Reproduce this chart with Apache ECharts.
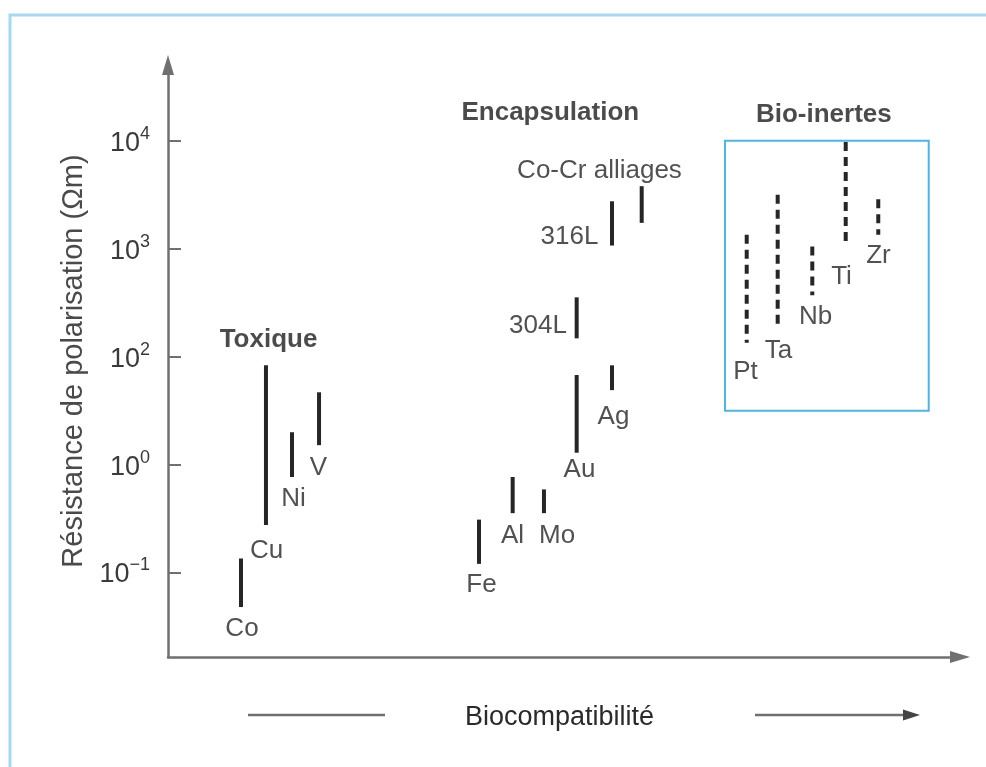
<!DOCTYPE html>
<html>
<head>
<meta charset="utf-8">
<title>Résistance de polarisation et biocompatibilité</title>
<script src="https://cdn.jsdelivr.net/npm/echarts@6/dist/echarts.min.js"></script>
<style>
  html, body { margin: 0; padding: 0; background: #fff; }
  #chart { width: 986px; height: 767px; }
</style>
</head>
<body>
<div id="chart"></div>
<script>
// y axis levels are evenly spaced in the figure: 0 = 10^-1, 1 = 10^0, 2 = 10^2, 3 = 10^3, 4 = 10^4
var tickLevels = [0, 1, 2, 3, 4];
var tickBase = ['10', '10', '10', '10', '10'];
var tickExp = ['\u22121', '0', '2', '3', '4'];

// materials, position along the biocompatibility axis (0-100) and range on the level axis
var materials = ['Co', 'Cu', 'Ni', 'V', 'Fe', 'Al', 'Mo', 'Au', 'Ag', '304L', '316L', 'Co-Cr alliages', 'Pt', 'Ta', 'Nb', 'Ti', 'Zr'];
var xPos = [9.22, 12.37, 15.66, 19.07, 39.27, 43.52, 47.47, 51.60, 56.06, 51.60, 56.06, 59.81, 73.07, 76.98, 81.35, 85.57, 89.68];
var low = [-0.32, 0.44, 0.885, 1.18, 0.08, 0.55, 0.55, 1.11, 1.69, 2.17, 3.03, 3.24, 2.13, 2.29, 2.57, 3.02, 3.13];
var high = [0.13, 1.92, 1.30, 1.67, 0.49, 0.885, 0.77, 1.83, 1.92, 2.55, 3.44, 3.58, 3.13, 3.50, 3.02, 3.99, 3.46];
var bioInert = [0, 0, 0, 0, 0, 0, 0, 0, 0, 0, 0, 0, 1, 1, 1, 1, 1];

// where each material name sits
var labelX = [9.34, 12.44, 15.85, 19.00, 39.58, 43.50, 49.12, 51.96, 56.25, 46.72, 50.69, 54.48, 72.92, 77.08, 81.76, 85.04, 89.71];
var labelY = [-0.52, 0.20, 0.68, 0.97, -0.11, 0.34, 0.34, 0.95, 1.44, 2.29, 3.11, 3.72, 1.86, 2.05, 2.37, 2.74, 2.93];

// group headings
var groups = ['Toxique', 'Encapsulation', 'Bio-inertes'];
var groupX = [12.69, 48.27, 82.81];
var groupY = [2.16, 4.26, 4.24];

// frame around the bio-inert group
var inertBoxX = [70.33, 96.05];
var inertBoxY = [1.50, 4.0];

var regular = '"Liberation Sans", Arial, Helvetica, sans-serif';
var narrow = '"Liberation Sans Narrow", "Liberation Sans", Arial, sans-serif';
var axisGrey = '#707070';

var chart = echarts.init(document.getElementById('chart'));

var barData = materials.map(function (m, i) {
  return { name: m, value: [xPos[i], low[i], high[i], bioInert[i]] };
});
var labelData = materials.map(function (m, i) {
  return { name: m, value: [labelX[i], labelY[i]] };
});
var groupData = groups.map(function (g, i) {
  return { name: g, value: [groupX[i], groupY[i]] };
});

var option = {
  animation: false,
  backgroundColor: '#ffffff',
  grid: { left: 168, right: 26, top: 65, bottom: 110 },
  xAxis: {
    type: 'value',
    min: 0,
    max: 100,
    axisLine: {
      show: true,
      onZero: false,
      symbol: ['none', 'triangle'],
      symbolSize: [12, 20],
      lineStyle: { color: axisGrey, width: 2.5 }
    },
    axisTick: { show: false },
    axisLabel: { show: false },
    splitLine: { show: false },
    name: 'Biocompatibilité',
    nameLocation: 'middle',
    nameGap: 47,
    nameTextStyle: { fontFamily: regular, fontSize: 27, color: '#2a2a2a', padding: [0, 9, 0, 0] }
  },
  yAxis: {
    type: 'value',
    min: -0.783,
    max: 4.703,
    axisLine: {
      show: true,
      onZero: false,
      symbol: ['none', 'triangle'],
      symbolSize: [12, 20],
      lineStyle: { color: axisGrey, width: 2.5 }
    },
    axisTick: {
      show: true,
      inside: true,
      length: 13,
      customValues: tickLevels,
      lineStyle: { color: axisGrey, width: 2 }
    },
    axisLabel: {
      customValues: tickLevels,
      margin: 18,
      formatter: function (v) {
        var i = tickLevels.indexOf(Math.round(v));
        return '{b|' + tickBase[i] + '}{s|' + tickExp[i] + '}';
      },
      rich: {
        b: { fontFamily: narrow, fontSize: 27, color: '#3a3a3a', lineHeight: 32, verticalAlign: 'bottom' },
        s: { fontFamily: narrow, fontSize: 18, color: '#3a3a3a', lineHeight: 18, verticalAlign: 'top' }
      }
    },
    splitLine: { show: false },
    name: 'Résistance de polarisation (Ωm)',
    nameLocation: 'middle',
    nameRotate: 90,
    nameGap: 80,
    nameTextStyle: { fontFamily: regular, fontSize: 29, color: '#4a4a4a' }
  },
  graphic: [
    {
      type: 'polyline',
      shape: { points: [[10, 767], [10, 15], [986, 15]] },
      style: { stroke: '#a3d9f4', lineWidth: 3, fill: null },
      silent: true
    },
    {
      type: 'line',
      shape: { x1: 248, y1: 715, x2: 385, y2: 715 },
      style: { stroke: axisGrey, lineWidth: 2.5 },
      silent: true
    },
    {
      type: 'line',
      shape: { x1: 755, y1: 715, x2: 908, y2: 715 },
      style: { stroke: axisGrey, lineWidth: 2.5 },
      silent: true
    },
    {
      type: 'polygon',
      shape: { points: [[903, 709.5], [920, 715], [903, 720.5]] },
      style: { fill: '#444444' },
      silent: true
    }
  ],
  series: [
    {
      type: 'custom',
      name: 'ranges',
      silent: true,
      data: barData,
      encode: { x: 0, y: [1, 2] },
      renderItem: function (params, api) {
        var top = api.coord([api.value(0), api.value(2)]);
        var bottom = api.coord([api.value(0), api.value(1)]);
        var dashed = api.value(3) === 1;
        return {
          type: 'line',
          shape: { x1: top[0], y1: top[1], x2: bottom[0], y2: bottom[1] },
          style: {
            stroke: '#262626',
            lineWidth: 4,
            lineDash: dashed ? [9, 6] : null
          }
        };
      },
      markArea: {
        silent: true,
        itemStyle: { color: 'rgba(0,0,0,0)', borderColor: '#4cb5e8', borderWidth: 2 },
        label: { show: false },
        data: [[
          { xAxis: inertBoxX[0], yAxis: inertBoxY[0] },
          { xAxis: inertBoxX[1], yAxis: inertBoxY[1] }
        ]]
      }
    },
    {
      type: 'scatter',
      name: 'materials',
      silent: true,
      symbolSize: 0,
      data: labelData,
      label: {
        show: true,
        position: 'inside',
        formatter: '{b}',
        fontFamily: regular,
        fontSize: 26,
        color: '#262626'
      }
    },
    {
      type: 'scatter',
      name: 'groups',
      silent: true,
      symbolSize: 0,
      data: groupData,
      label: {
        show: true,
        position: 'inside',
        formatter: '{b}',
        fontFamily: regular,
        fontWeight: 'bold',
        fontSize: 26,
        color: '#1e1e1e'
      }
    }
  ]
};

chart.setOption(option);
</script>
</body>
</html>
